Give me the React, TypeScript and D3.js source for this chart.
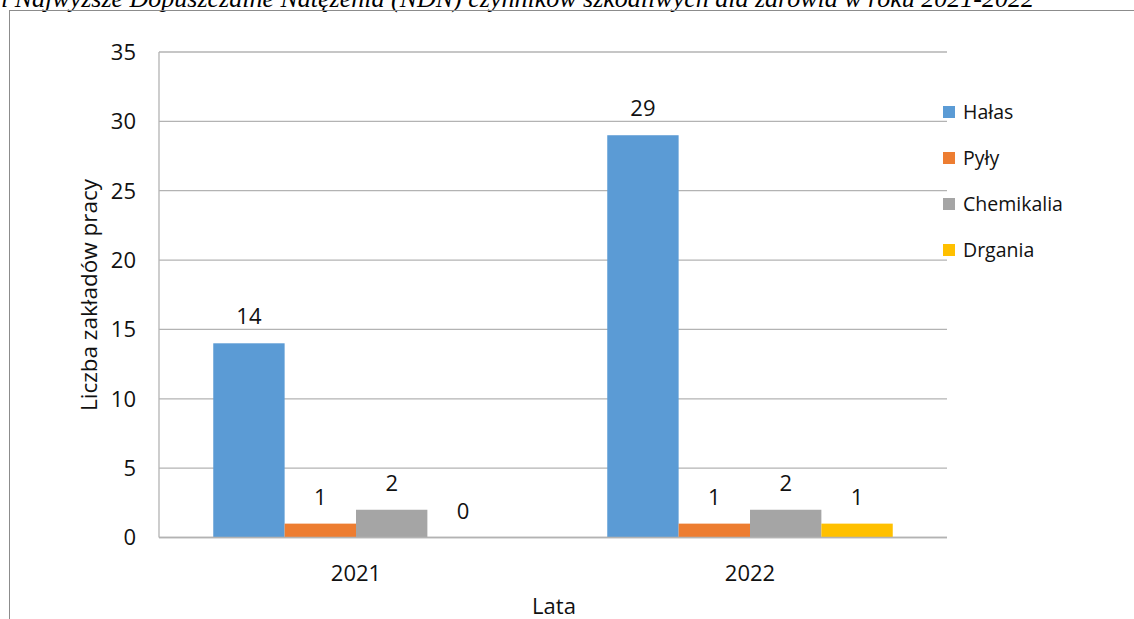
import React from "react";
import * as d3 from "d3";

const years = ["2021", "2022"];
const seriesNames = ["Hałas", "Pyły", "Chemikalia", "Drgania"];
const halas = [14, 29];
const pyly = [1, 1];
const chemikalia = [2, 2];
const drgania = [0, 1];
const yTicks = [0, 5, 10, 15, 20, 25, 30, 35];
const colors = ["#5B9BD5", "#ED7D31", "#A5A5A5", "#FFC000"];
const titleText =
  "i Najwyższe Dopuszczalne Natężenia (NDN) czynników szkodliwych dla zdrowia w roku 2021-2022";
const yTitle = "Liczba zakładów pracy";
const xTitle = "Lata";

const W = 1134;
const H = 619;
const plotLeft = 159;
const plotRight = 947;
const plotTop = 52;
const plotBottom = 537.5;
const font = "'Open Sans', sans-serif";
const textColor = "#111";

export default function App() {
  const values = [halas, pyly, chemikalia, drgania];
  const y = d3.scaleLinear().domain([0, 35]).range([plotBottom, plotTop]);
  const x0 = d3
    .scaleBand<string>()
    .domain(years)
    .range([plotLeft, plotRight])
    .paddingInner(0.2754)
    .paddingOuter(0.2754 / 2);
  const x1 = d3
    .scaleBand<string>()
    .domain(seriesNames)
    .range([0, x0.bandwidth()]);

  return (
    <svg
      width={W}
      height={H}
      style={{ position: "absolute", left: 0, top: 0, background: "#fff" }}
    >
      <rect x={0} y={0} width={W} height={H} fill="#fff" />
      <text
        x={1}
        y={7}
        fontFamily="'Liberation Serif', 'Times New Roman', serif"
        fontStyle="italic"
        fontSize={26}
        fill="#000"
      >
        {titleText}
      </text>
      {/* outer frame */}
      <line x1={9} y1={10.5} x2={W} y2={10.5} stroke="#8c8c8c" strokeWidth={1} />
      <line x1={9.5} y1={10} x2={9.5} y2={H} stroke="#8c8c8c" strokeWidth={1} />

      {/* gridlines */}
      {yTicks.map((t) => (
        <line
          key={"g" + t}
          x1={plotLeft}
          x2={plotRight}
          y1={y(t)}
          y2={y(t)}
          stroke="#b3b3b3"
          strokeWidth={1.3}
        />
      ))}
      {/* y axis line */}
      <line
        x1={plotLeft}
        x2={plotLeft}
        y1={plotTop}
        y2={plotBottom}
        stroke="#b3b3b3"
        strokeWidth={1.3}
      />
      {/* tick labels */}
      {yTicks.map((t) => (
        <text
          key={"t" + t}
          x={136}
          y={y(t)}
          dy="0.36em"
          textAnchor="end"
          fontFamily={font}
          fontSize={22}
          fill={textColor}
        >
          {t}
        </text>
      ))}

      {/* bars */}
      {years.map((yr, i) => (
        <g key={yr} transform={`translate(${x0(yr)},0)`}>
          {seriesNames.map((s, j) => {
            const v = values[j][i];
            const bx = x1(s)!;
            const bw = x1.bandwidth();
            return (
              <g key={s}>
                {v > 0 && (
                  <rect
                    x={bx}
                    y={y(v)}
                    width={bw}
                    height={y(0) - y(v)}
                    fill={colors[j]}
                  />
                )}
                <text
                  x={bx + bw / 2}
                  y={y(v) - 19}
                  textAnchor="middle"
                  fontFamily={font}
                  fontSize={22}
                  fill={textColor}
                >
                  {v}
                </text>
              </g>
            );
          })}
        </g>
      ))}

      {/* x axis line (over bars) */}
      <line
        x1={plotLeft}
        x2={plotRight}
        y1={plotBottom}
        y2={plotBottom}
        stroke="#b3b3b3"
        strokeWidth={1.3}
      />

      {/* x labels */}
      {years.map((yr) => (
        <text
          key={"x" + yr}
          x={x0(yr)! + x0.bandwidth() / 2}
          y={581}
          textAnchor="middle"
          fontFamily={font}
          fontSize={22}
          fill={textColor}
        >
          {yr}
        </text>
      ))}
      <text
        x={554}
        y={614}
        textAnchor="middle"
        fontFamily={font}
        fontSize={22}
        fill={textColor}
      >
        {xTitle}
      </text>
      <text
        transform={`translate(97, 295) rotate(-90)`}
        textAnchor="middle"
        fontFamily={font}
        fontSize={22.5}
        fill={textColor}
      >
        {yTitle}
      </text>

      {/* legend */}
      {seriesNames.map((s, j) => {
        const cy = 112 + j * 46;
        return (
          <g key={"l" + s}>
            <rect x={943} y={cy - 6} width={12} height={12} fill={colors[j]} />
            <text
              x={963}
              y={cy}
              dy="0.36em"
              fontFamily={font}
              fontSize={19.5}
              fill={textColor}
            >
              {s}
            </text>
          </g>
        );
      })}
    </svg>
  );
}
